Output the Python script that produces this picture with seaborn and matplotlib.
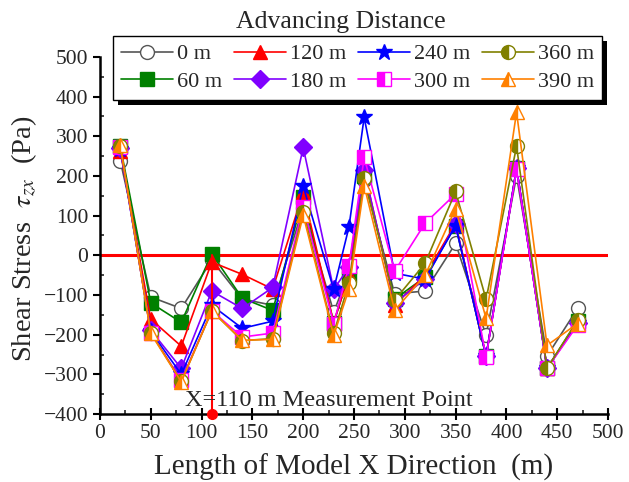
import matplotlib
matplotlib.use("Agg")
import matplotlib.pyplot as plt
from matplotlib.patches import Rectangle
import seaborn as sns
import pandas as pd

x_pos = [20, 50, 80, 110, 140, 170, 200, 230, 245, 260, 290, 320, 350, 380, 410, 440, 470]
labels = ["0 m", "60 m", "120 m", "180 m", "240 m", "300 m", "360 m", "390 m"]
s0 = [238, -105, -134, -12, -110, -126, 120, -143, -45, 190, -97, -90, 30, -202, 200, -254, -134]
s60 = [275, -120, -169, 4, -108, -139, 147, -170, -50, 200, -110, -55, 75, -255, 220, -285, -165]
s120 = [262, -161, -229, -17, -48, -85, 159, -170, -50, 215, -125, -50, 80, -255, 220, -285, -170]
s180 = [270, -189, -285, -90, -134, -81, 272, -86, -30, 214, -120, -60, 78, -255, 220, -285, -170]
s240 = [268, -192, -300, -126, -184, -166, 174, -86, 71, 348, -45, -60, 75, -255, 220, -285, -170]
s300 = [272, -195, -315, -140, -206, -196, 123, -172, -28, 247, -40, 81, 155, -257, 217, -285, -176]
s360 = [275, -195, -318, -140, -215, -210, 110, -197, -70, 194, -113, -20, 161, -111, 275, -285, -164]
s390 = [277, -197, -319, -140, -214, -212, 101, -202, -86, 176, -139, -50, 118, -159, 361, -227, -172]
series = [s0, s60, s120, s180, s240, s300, s360, s390]

styles = [
    dict(color="#555555", marker="o", mfc="white", mec="#555555"),
    dict(color="#008000", marker="s", mfc="#008000", mec="#008000"),
    dict(color="#FF0000", marker="^", mfc="#FF0000", mec="#FF0000"),
    dict(color="#8000FF", marker="D", mfc="#8000FF", mec="#8000FF", ms=9),
    dict(color="#0000FF", marker="*", mfc="#0000FF", mec="#0000FF", ms=12),
    dict(color="#FF00FF", marker="s", mfc="#FF00FF", mec="#FF00FF", fillstyle="left", markerfacecoloralt="white"),
    dict(color="#808000", marker="o", mfc="#808000", mec="#808000", fillstyle="left", markerfacecoloralt="white"),
    dict(color="#FF8000", marker="^", mfc="#FF8000", mec="#FF8000", fillstyle="left", markerfacecoloralt="white"),
]

sns.set_style("ticks")
plt.rcParams["font.family"] = ["Liberation Serif", "DejaVu Serif"]
plt.rcParams["mathtext.fontset"] = "stix"

W, H = 629, 482
fig = plt.figure(figsize=(W/100, H/100), dpi=100)
ax = fig.add_axes([100/W, 1-414/H, 508/W, 357/H])

ax.axhline(0, color="#FF0000", lw=2.2, zorder=1.5)

for lab, vals, st in zip(labels, series, styles):
    df = pd.DataFrame({"x": x_pos, "y": vals})
    st = dict(st)
    ms = st.pop("ms", 10)
    sns.lineplot(data=df, x="x", y="y", ax=ax, label=lab, lw=1.2, ms=ms, mew=1.0,
                 zorder=3, **st)

ax.plot([110, 110], [0, -400], color="#FF0000", lw=1.5, zorder=4, clip_on=False)
ax.plot([110], [-400], marker="o", color="#FF0000", ms=7, zorder=5, clip_on=False)
ax.text(84, -365, "X=110 m Measurement Point", fontsize=17.5, va="center", ha="left", zorder=6)

ax.set_xlim(0, 500)
ax.set_ylim(-400, 500)
ax.set_xticks(range(0, 501, 50))
ax.set_yticks(range(-400, 501, 100))
ax.set_xticks(range(25, 500, 50), minor=True)
ax.set_yticks(range(-350, 500, 100), minor=True)
ax.tick_params(axis="both", which="major", labelsize=15.5, width=1.5, length=5, color="black")
ax.tick_params(axis="x", which="major", direction="inout", length=8)
ax.tick_params(axis="y", which="major", direction="out")
ax.tick_params(axis="both", which="minor", direction="in", length=3, width=1.2)
for sp in ["left", "bottom"]:
    ax.spines[sp].set_linewidth(1.8)
    ax.spines[sp].set_color("black")
sns.despine(ax=ax)

ax.set_xlabel("Length of Model X Direction  (m)", fontsize=21)
ax.xaxis.set_label_coords(0.5, -0.11)
ax.set_ylabel("Shear Stress  $\\tau_{zx}$  (Pa)", fontsize=20.5)
ax.yaxis.set_label_coords(-0.12, 0.49)

handles, labs = ax.get_legend_handles_labels()
ax.get_legend().remove()
leg = fig.legend(handles, labs, loc="upper left", bbox_to_anchor=(113/W, 1-36/H),
                 ncol=4, fontsize=16, frameon=True, fancybox=False, borderaxespad=0,
                 handlelength=2.35, handletextpad=0.2, columnspacing=0.5, borderpad=0.35,
                 labelspacing=0.32)
leg.get_frame().set_edgecolor("black")
leg.get_frame().set_linewidth(1.0)
leg.get_frame().set_alpha(1)
leg.set_zorder(10)
fig.canvas.draw()
bb = leg.get_window_extent()
off = 5
fig.patches.append(Rectangle(((bb.x0 + off)/W, (bb.y0 - off)/H), bb.width/W, bb.height/H,
                             transform=fig.transFigure, facecolor="black", edgecolor="none",
                             zorder=9))
fig.text(341/W, 1-22/H, "Advancing Distance", fontsize=18.5, ha="center", va="center")

fig.savefig("out.png", dpi=100)
